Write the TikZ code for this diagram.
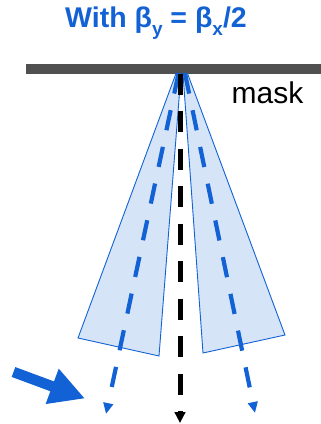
\documentclass[tikz,border=0pt]{standalone}
\usepackage{fontspec}
\setmainfont{Liberation Sans}
\usetikzlibrary{arrows.meta}
\definecolor{myblue}{RGB}{18,98,214}
\definecolor{wedgefill}{RGB}{214,228,247}
\definecolor{bargray}{RGB}{80,80,80}
\newcommand{\mysub}[1]{\raisebox{-8.5pt}{\fontsize{19}{19}\selectfont #1}}
\begin{document}
\begin{tikzpicture}[x=1pt,y=-1pt,
  wedge/.style={fill=wedgefill, draw=myblue, line width=0.9pt, line join=miter},
  bluedash/.style={myblue, line width=4.2pt, dash pattern=on 20.5pt off 17pt, -{Triangle[length=11pt,width=9.5pt]}},
  blackdash/.style={black, line width=5pt, dash pattern=on 21pt off 16.5pt, -{Triangle[length=11pt,width=10.5pt]}},
  bigarrow/.style={myblue, line width=10.5pt, -{Triangle[length=35pt,width=35pt]}},
  titletext/.style={inner sep=0pt, text=myblue, font=\fontsize{28.5}{28.5}\selectfont\bfseries},
  labeltext/.style={inner sep=0pt, text=black, font=\fontsize{30}{30}\selectfont}]
\useasboundingbox (0,0) rectangle (321,424);
% mask bar
\fill[bargray] (26,63.5) rectangle (321,73.5);
% wedges
\filldraw[wedge] (176,73.5) -- (181,73.5) -- (159,356) -- (78,338) -- cycle;
\filldraw[wedge] (183,73.5) -- (187.5,73.5) -- (285,335) -- (203,353) -- cycle;
% coordinates
\coordinate (srcL) at (178.5,73.5);
\coordinate (tipL) at (106,414);
\coordinate (srcR) at (185,73.5);
\coordinate (tipR) at (255,413);
\coordinate (srcC) at (180,73.5);
\coordinate (tipC) at (180,423);
\coordinate (bigS) at (13.5,372);
\coordinate (bigT) at (85,398.5);
% rays
\draw[bluedash] (srcL) -- (tipL);
\draw[bluedash] (srcR) -- (tipR);
\draw[blackdash] (srcC) -- (tipC);
\draw[bigarrow] (bigS) -- (bigT);
% texts
\node[titletext, anchor=base] (title) at (156,27) {With β\mysub{y} = β\mysub{x}/2};
\node[labeltext, anchor=base west] (masklabel) at (231.5,103) {mask};
\end{tikzpicture}
\end{document}
